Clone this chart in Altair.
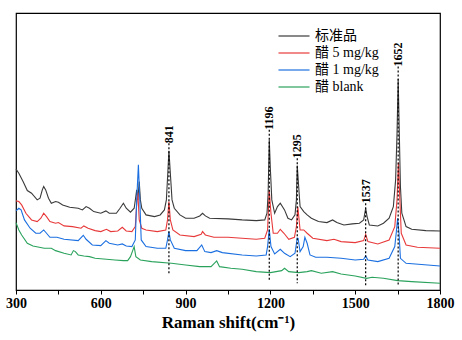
import altair as alt
import pandas as pd

series_names = ["标准品", "醋 5 mg/kg", "醋 1 mg/kg", "醋 blank"]
series_colors = ["#3a3a3a", "#e8393a", "#1b6fe0", "#2aa25c"]

std_x = [300, 310, 325, 340, 355, 375, 385, 393, 398, 405, 415, 425, 440, 450, 465, 490, 520, 535, 548, 560,
         575, 600, 618, 630, 655, 668, 680, 690, 705, 718, 723, 727, 731, 736, 740, 745, 760, 790, 810, 825,
         832, 837, 841, 846, 852, 860, 880, 900, 930, 950, 960, 970, 985, 1050, 1100, 1150, 1180, 1188, 1192, 1196,
         1200, 1205, 1215, 1225, 1235, 1250, 1262, 1275, 1287, 1292, 1295, 1300, 1305, 1318, 1330, 1345, 1370, 1400, 1420, 1435,
         1460, 1490, 1515, 1530, 1537, 1542, 1550, 1580, 1600, 1620, 1635, 1643, 1648, 1652, 1656, 1660, 1665, 1680, 1700, 1750, 1800]
std_y = [392, 380, 355, 328, 320, 300, 305, 330, 340, 330, 305, 290, 295, 293, 285, 278, 275, 270, 280, 275,
         265, 260, 267, 260, 260, 275, 290, 275, 263, 275, 305, 330, 300, 355, 300, 275, 255, 250, 255, 270,
         300, 380, 447, 380, 300, 275, 255, 245, 245, 252, 260, 252, 245, 243, 240, 238, 240, 260, 320, 480,
         390, 300, 260, 280, 290, 270, 245, 240, 255, 300, 403, 340, 280, 265, 255, 245, 235, 232, 240, 232,
         225, 228, 230, 240, 275, 250, 225, 222, 230, 245, 280, 360, 500, 662, 500, 340, 260, 220, 212, 208, 207]

red_x = [300, 310, 320, 335, 355, 375, 388, 398, 408, 420, 440, 450, 470, 500, 530, 540, 555, 580, 600, 620,
         635, 660, 676, 690, 710, 722, 728, 731, 736, 745, 760, 800, 830, 836, 841, 846, 855, 880, 930, 955,
         960, 970, 1000, 1050, 1100, 1150, 1180, 1190, 1196, 1202, 1210, 1225, 1235, 1248, 1265, 1285, 1292, 1297, 1305, 1318,
         1330, 1350, 1400, 1425, 1450, 1500, 1530, 1537, 1545, 1580, 1620, 1640, 1648, 1653, 1658, 1663, 1680, 1720, 1800]
red_y = [297, 295, 285, 260, 240, 235, 245, 260, 250, 235, 230, 232, 222, 220, 215, 222, 215, 208, 205, 212,
         205, 207, 218, 207, 205, 220, 300, 322, 240, 215, 210, 205, 210, 240, 295, 240, 210, 195, 190, 197,
         205, 195, 188, 188, 185, 182, 185, 210, 328, 260, 200, 200, 212, 200, 182, 188, 220, 279, 210, 210,
         200, 185, 178, 182, 175, 172, 178, 197, 175, 168, 180, 220, 300, 412, 300, 200, 165, 158, 155]

blue_x = [300, 310, 318, 330, 350, 370, 385, 398, 408, 420, 445, 470, 520, 538, 548, 570, 600, 618, 630, 660,
          676, 690, 710, 722, 727, 733, 738, 743, 760, 800, 830, 836, 841, 846, 860, 900, 940, 957, 968, 990,
          1010, 1030, 1100, 1150, 1185, 1190, 1196, 1202, 1215, 1235, 1250, 1270, 1287, 1295, 1298, 1305, 1316, 1322, 1330, 1340,
          1360, 1400, 1450, 1500, 1530, 1537, 1545, 1580, 1620, 1640, 1645, 1650, 1655, 1660, 1680, 1800]
blue_y = [267, 275, 270, 240, 215, 200, 200, 210, 200, 188, 188, 182, 178, 194, 182, 165, 163, 178, 170, 165,
          168, 162, 160, 180, 300, 405, 300, 180, 160, 155, 155, 180, 205, 180, 155, 148, 148, 165, 145, 142,
          148, 142, 135, 132, 135, 160, 212, 160, 138, 152, 140, 130, 140, 186, 185, 145, 160, 188, 170, 135,
          128, 128, 125, 120, 122, 132, 120, 115, 125, 160, 200, 245, 200, 125, 110, 102]

blank_x = [300, 310, 320, 340, 360, 400, 425, 440, 470, 495, 503, 510, 520, 540, 560, 580, 620, 650, 680, 695,
           705, 718, 724, 740, 780, 850, 900, 950, 990, 1010, 1020, 1060, 1100, 1150, 1200, 1240, 1250, 1265, 1300, 1330,
           1345, 1380, 1420, 1450, 1500, 1540, 1560, 1600, 1650, 1700, 1800]
blank_y = [232, 210, 195, 170, 162, 155, 155, 148, 140, 135, 148, 145, 135, 132, 130, 125, 122, 120, 118, 118,
           130, 160, 130, 120, 115, 110, 105, 100, 100, 117, 100, 95, 92, 85, 82, 88, 95, 85, 82, 85,
           88, 80, 85, 78, 72, 65, 68, 65, 58, 55, 50]

peak_pos = [841, 1196, 1295, 1537, 1652]
peak_top = [470, 510, 425, 290, 700]
peak_bottom = [75, 60, 50, 42, 45]
peak_labels = ["841", "1196", "1295", "1537", "1652"]

x_ticks = [300, 450, 600, 750, 900, 1050, 1200, 1350, 1500, 1650, 1800]

rows = []
for name, xs, ys in zip(series_names, [std_x, red_x, blue_x, blank_x], [std_y, red_y, blue_y, blank_y]):
    for i, (xv, yv) in enumerate(zip(xs, ys)):
        rows.append({"series": name, "order": i, "shift": xv, "intensity": yv})
df = pd.DataFrame(rows)

peaks = pd.DataFrame({"pos": peak_pos, "top": peak_top, "bottom": peak_bottom, "label": peak_labels})

serif = "Liberation Serif, Noto Sans CJK SC"

xscale = alt.Scale(domain=[300, 1800], nice=False, zero=False)
yscale = alt.Scale(domain=[30, 860], nice=False, zero=False)

lines = alt.Chart(df).mark_line(strokeWidth=1.1, interpolate="linear").encode(
    x=alt.X("shift:Q", scale=xscale,
            title="Raman shift(cm⁻¹)",
            axis=alt.Axis(values=x_ticks, format="d",
                          labelExpr="datum.value % 300 === 0 ? datum.label : ''",
                          grid=False, tickSize=4, tickColor="black", domainColor="black",
                          labelFont="Liberation Serif", labelFontSize=14, labelFontWeight="bold",
                          labelColor="black", labelPadding=2, labelFlush=False,
                          titleFont="Liberation Serif", titleFontSize=17, titleFontWeight="bold",
                          titleColor="black", titlePadding=4)),
    y=alt.Y("intensity:Q", scale=yscale, axis=None),
    color=alt.Color("series:N", sort=series_names,
                    scale=alt.Scale(domain=series_names, range=series_colors),
                    legend=alt.Legend(title=None, orient="none", legendX=271, legendY=16,
                                      symbolType="M-3,0H3", symbolSize=107, symbolStrokeWidth=1.2,
                                      symbolFillColor="transparent",
                                      labelFont=serif, labelFontSize=14, labelColor="black",
                                      labelOffset=14, rowPadding=3)),
    order="order:Q",
)

rules = alt.Chart(peaks).mark_rule(color="black", strokeDash=[2, 2], strokeWidth=1.2).encode(
    x=alt.X("pos:Q", scale=xscale),
    y=alt.Y("top:Q", scale=yscale),
    y2="bottom:Q",
)

labels = alt.Chart(peaks).mark_text(angle=270, align="left", baseline="middle",
                                    font="Liberation Serif", fontSize=12, fontWeight="bold",
                                    color="black").encode(
    x=alt.X("pos:Q", scale=xscale),
    y=alt.Y("top:Q", scale=yscale),
    text="label:N",
)

chart = alt.layer(lines, rules, labels).properties(
    width=424, height=277,
    padding={"left": 16, "top": 13, "right": 22, "bottom": 50},
    autosize=alt.AutoSizeParams(type="none"),
    background="white",
).configure_view(stroke="black", strokeWidth=1.2)

chart.save("out.html", embed_options={"renderer": "svg", "actions": False})
